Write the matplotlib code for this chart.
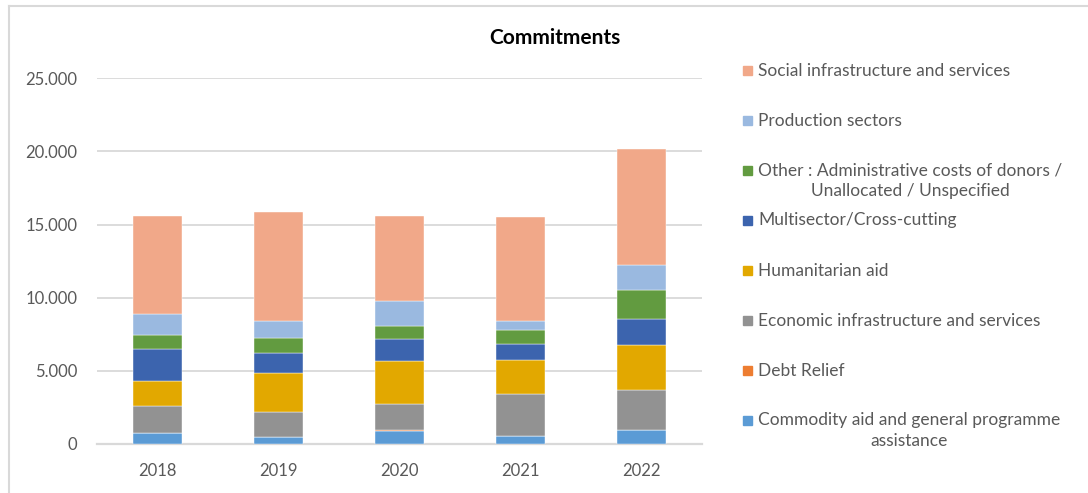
import matplotlib
matplotlib.use("Agg")
import matplotlib.pyplot as plt
from matplotlib.patches import Rectangle
from matplotlib.ticker import FuncFormatter
import numpy as np

plt.rcParams["font.family"] = ["Lato", "DejaVu Sans"]

years = ["2018", "2019", "2020", "2021", "2022"]

# stacked bottom -> top
series = [
    "Commodity aid and general programme\nassistance",
    "Debt Relief",
    "Economic infrastructure and services",
    "Humanitarian aid",
    "Multisector/Cross-cutting",
    "Other : Administrative costs of donors /\nUnallocated / Unspecified",
    "Production sectors",
    "Social infrastructure and services",
]
commodity = [730, 500, 870, 570, 960]
debt_relief = [0, 0, 110, 0, 0]
economic = [1870, 1710, 1770, 2850, 2750]
humanitarian = [1710, 2620, 2900, 2300, 3060]
multisector = [2160, 1370, 1510, 1140, 1770]
other = [980, 1050, 890, 930, 1960]
production = [1420, 1160, 1720, 620, 1710]
social = [6730, 7470, 5830, 7130, 7930]

values = [commodity, debt_relief, economic, humanitarian,
          multisector, other, production, social]
colors = ["#5B9BD5", "#ED7D31", "#929292", "#E2A800",
          "#3C64AE", "#629B40", "#9AB9E0", "#F1A889"]

text_grey = "#595959"
grid_grey = "#D9D9D9"

fig = plt.figure(figsize=(10.88, 4.93), dpi=100)
ax = fig.add_axes([97 / 1088, 1 - 444 / 493, 605 / 1088, (444 - 78.3) / 493])

x = np.arange(len(years))
bottom = np.zeros(len(years))
for vals, col in zip(values, colors):
    ax.bar(x, vals, width=0.41, bottom=bottom, color=col, zorder=3,
           edgecolor="white", linewidth=0.3)
    bottom += np.array(vals)

ax.set_xlim(-0.5, len(years) - 0.5)
ax.set_ylim(0, 25000)
ax.set_yticks(range(0, 25001, 5000))
ax.yaxis.set_major_formatter(FuncFormatter(lambda v, p: f"{int(v):,}".replace(",", ".")))
ax.set_xticks(x)
ax.set_xticklabels(years)
ax.tick_params(axis="both", length=0, labelsize=12, colors=text_grey)
ax.tick_params(axis="y", pad=14)
ax.tick_params(axis="x", pad=14)
ax.grid(axis="y", color=grid_grey, linewidth=1.3, zorder=0)
for side in ["left", "right", "top"]:
    ax.spines[side].set_visible(False)
ax.spines["bottom"].set_color(grid_grey)
ax.spines["bottom"].set_linewidth(1.6)

fig.text(555 / 1088, 1 - 38 / 493, "Commitments", ha="center", va="center",
         fontsize=15, fontweight="bold", color="black")

# legend, top entry first, 50 px apart
for i, (label, col) in enumerate(zip(series[::-1], colors[::-1])):
    yc = 70 + 50 * i
    fig.patches.append(Rectangle((743 / 1088, 1 - (yc + 4.5) / 493), 9 / 1088, 9 / 493,
                                 transform=fig.transFigure, color=col))
    fig.text(758 / 1088, 1 - (yc - 7.5) / 493, label, ha="left", va="top",
             multialignment="center", fontsize=12.5, color=text_grey, linespacing=1.33)

# chart border (top and left visible)
fig.add_artist(plt.Line2D([9 / 1088, 1], [1 - 6 / 493] * 2, color=grid_grey, lw=1.5))
fig.add_artist(plt.Line2D([9 / 1088] * 2, [0, 1 - 6 / 493], color=grid_grey, lw=1.5))

fig.savefig("out.png", dpi=100)
